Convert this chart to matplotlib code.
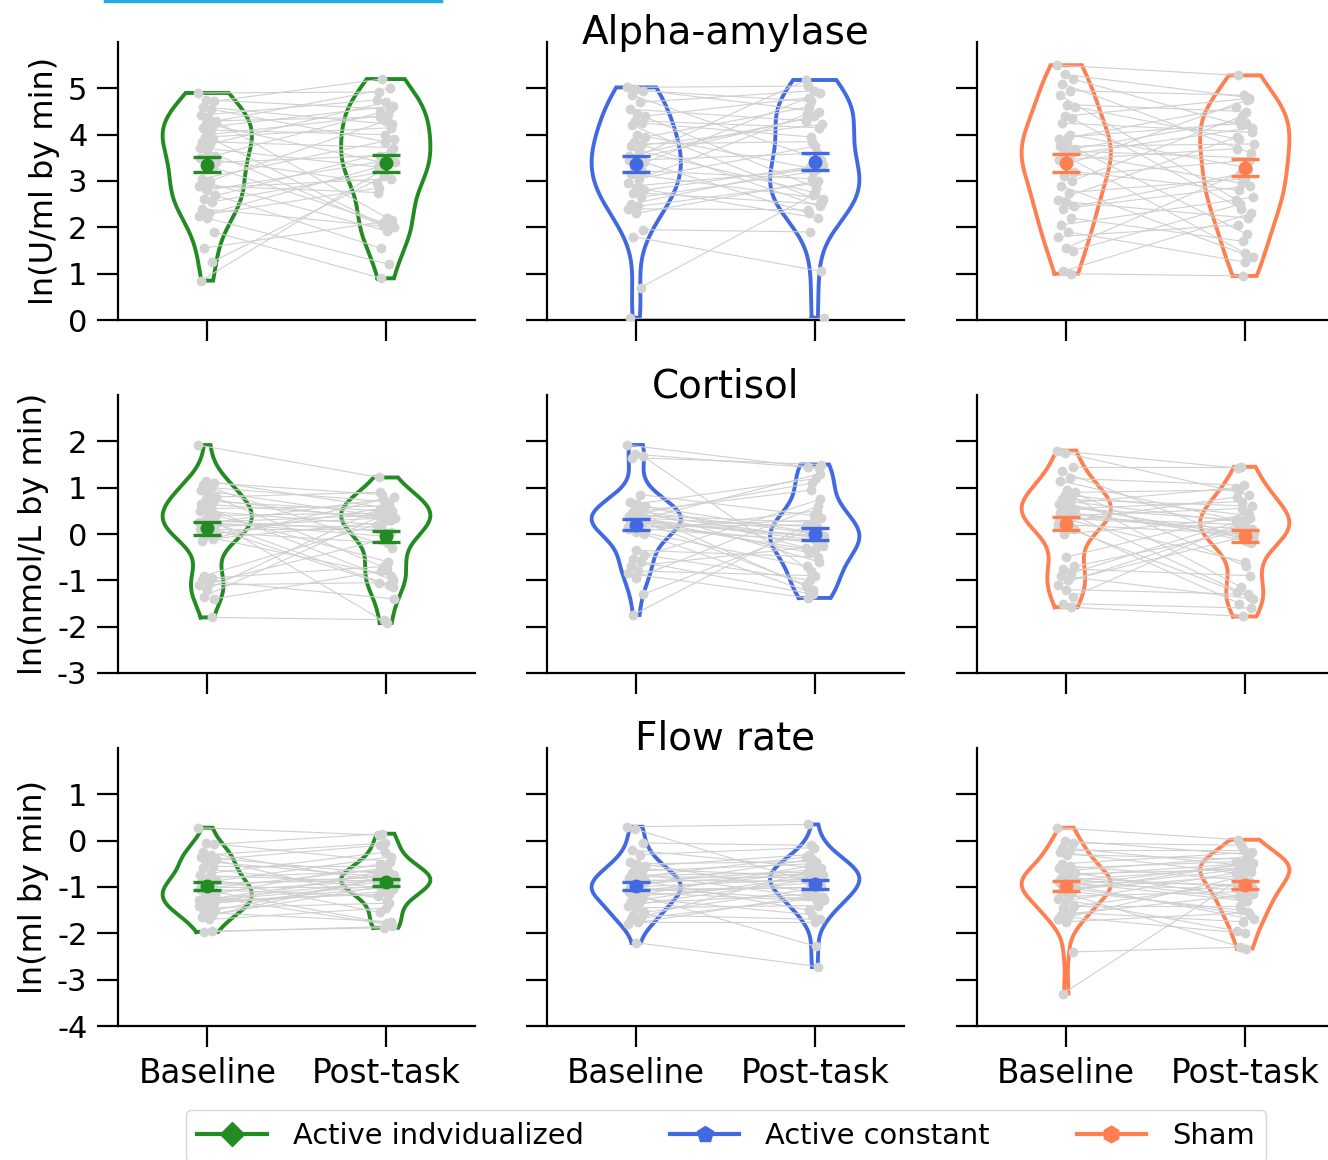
"""Paired violin plots of salivary markers (baseline vs post-task) for three stimulation groups."""

import matplotlib

matplotlib.use("Agg")
import matplotlib.pyplot as plt
import numpy as np
from matplotlib.lines import Line2D

plt.rcParams["font.family"] = ["DejaVu Sans"]
plt.rcParams["axes.unicode_minus"] = False

GROUPS = ["Active indvidualized", "Active constant", "Sham"]
GROUP_COLORS = ["#228B22", "#4169E1", "#FF7F50"]
GROUP_MARKERS = ["D", "p", "h"]
TIMEPOINTS = ["Baseline", "Post-task"]
MEASURES = ["Alpha-amylase", "Cortisol", "Flow rate"]
YLABELS = ["ln(U/ml by min)", "ln(nmol/L by min)", "ln(ml by min)"]
YLIMS = [(0, 6), (-3, 3), (-4, 2)]
YTICKS = [range(0, 6), range(-3, 3), range(-4, 2)]

# alpha-amylase, ln(U/ml by min); same index = same participant
amy_ind_base = [4.90, 4.75, 4.72, 4.60, 4.55, 4.42, 4.38, 4.30, 4.25, 4.20, 4.15, 4.10, 3.50, 4.00,
                3.40, 3.95, 3.90, 3.85, 3.80, 3.72, 3.65, 3.55, 2.85, 3.30, 3.05, 3.00, 2.90, 2.80,
                2.70, 2.62, 2.55, 2.40, 2.30, 2.25, 2.20, 1.90, 1.55, 1.25, 0.85, 2.95]
amy_ind_post = [4.92, 4.55, 5.20, 4.22, 3.85, 4.75, 2.20, 4.38, 5.00, 3.40, 4.62, 4.00, 2.95, 4.42,
                3.55, 4.15, 2.05, 3.72, 4.70, 3.30, 1.98, 4.48, 3.05, 2.10, 3.90, 4.30, 2.75, 3.45,
                1.55, 3.65, 3.20, 2.00, 3.35, 2.85, 1.20, 0.90, 2.15, 3.10, 3.40, 1.92]
amy_con_base = [5.02, 4.98, 4.95, 4.85, 4.70, 4.55, 4.45, 4.40, 4.30, 4.25, 4.20, 3.50, 3.45, 4.00,
                3.95, 3.85, 3.80, 3.75, 3.65, 3.55, 3.45, 3.40, 3.30, 3.22, 3.15, 3.05, 2.95, 2.85,
                2.80, 2.75, 2.65, 2.50, 2.45, 2.40, 2.30, 1.95, 1.80, 0.70, 0.05, 2.90]
amy_con_post = [5.05, 4.50, 4.72, 3.45, 4.95, 4.30, 2.85, 4.80, 4.15, 3.95, 2.55, 4.40, 5.18, 3.25,
                4.60, 2.45, 3.85, 4.22, 2.75, 4.35, 3.60, 2.30, 4.90, 3.05, 2.62, 3.75, 4.45, 2.20,
                3.30, 2.50, 3.20, 3.35, 2.95, 2.38, 3.00, 1.90, 1.05, 2.70, 0.05, 3.25]
amy_sham_base = [5.50, 5.30, 5.20, 5.10, 4.95, 4.85, 4.65, 4.60, 4.40, 4.35, 4.25, 4.00, 3.90, 3.80,
                 3.70, 3.65, 3.60, 3.55, 3.50, 3.45, 3.35, 3.20, 3.10, 3.00, 2.90, 2.75, 2.60, 2.55,
                 2.45, 2.40, 2.20, 2.05, 1.90, 1.80, 1.55, 1.50, 1.05, 1.00, 3.75, 3.95]
amy_sham_post = [5.28, 4.80, 4.20, 3.60, 4.85, 2.60, 4.50, 3.90, 4.78, 2.40, 4.05, 3.30, 4.60, 1.85,
                 4.30, 3.50, 2.95, 4.15, 1.45, 3.70, 4.75, 2.80, 3.45, 4.40, 1.35, 3.05, 3.95, 2.20,
                 3.15, 2.90, 1.70, 2.65, 1.25, 2.05, 3.25, 2.50, 2.30, 0.95, 3.80, 4.25]

# cortisol, ln(nmol/L by min)
cort_ind_base = [1.92, 1.15, 1.10, 1.05, 1.00, 0.95, 0.85, 0.80, 0.75, 0.70, 0.60, 0.55, 0.50, 0.45,
                 0.40, 0.30, 0.25, 0.20, 0.15, 0.10, 0.05, 0.00, -0.05, -0.10, -0.15, 0.25, 0.25,
                 0.30, 0.20, -0.90, -0.95, -1.00, -1.05, -1.10, -1.20, -1.40, -1.35, -1.80, 0.65, 0.35]
cort_ind_post = [1.22, 0.55, 0.85, -0.30, 0.70, 0.40, -0.75, 0.90, 0.30, 0.50, -1.00, 0.60, 0.20,
                 -0.60, 0.45, 0.05, 0.75, -1.15, 0.35, 0.10, -0.20, 0.55, -0.90, 0.25, 0.80, -0.05,
                 0.40, -1.10, 0.15, 0.30, -0.70, -1.40, -0.10, -1.05, 0.65, -0.80, 0.50, -1.85, 0.35,
                 -1.92]
cort_con_base = [1.92, 1.72, 1.68, 1.65, 0.85, 0.70, 0.65, 0.60, 0.55, 0.50, 0.45, 0.40, 0.38, 0.35,
                 0.30, 0.28, 0.25, 0.20, 0.15, 0.10, 0.05, 0.00, 0.50, 0.45, 0.35, 0.25, 0.15, -0.35,
                 -0.45, -0.55, -0.60, -0.70, -0.80, -0.85, -0.95, -1.30, -1.75, 0.45, 0.30, 0.12]
cort_con_post = [1.45, 1.42, -0.80, 1.50, 0.40, -0.30, 1.20, 0.05, -0.60, 0.95, -0.10, 0.25, -1.10,
                 0.15, -0.40, 1.30, -0.05, -0.20, 0.30, -0.70, 0.50, -1.25, 0.00, 1.10, -0.15, -0.35,
                 0.20, -0.50, -1.00, 0.75, -1.30, -0.25, -0.90, -1.38, 0.60, 0.10, 0.35, -1.20,
                 -0.05, -0.15]
cort_sham_base = [1.80, 1.75, 1.45, 1.35, 1.20, 1.15, 0.95, 0.90, 0.85, 0.80, 0.75, 0.70, 0.65, 0.60,
                  0.55, 0.50, 0.40, 0.35, 0.30, 0.25, 0.20, 0.10, 0.00, 0.55, 0.50, 0.35, 0.20, -0.50,
                  -0.70, -0.75, -0.85, -0.90, -1.00, -1.10, -1.20, -1.35, -1.50, -1.58, 0.45, 0.65]
cort_sham_post = [1.42, 0.85, 1.45, -0.20, 1.05, 0.30, -0.70, 0.95, 0.40, -1.15, 0.60, 0.25, 1.00,
                  -0.05, 0.30, -1.35, 0.55, 0.10, -0.60, 0.80, 0.00, -1.50, 0.35, 0.70, -0.10, 0.20,
                  -1.25, 0.45, 0.05, -0.90, 0.30, -1.40, -0.05, 0.15, -1.30, 0.25, -1.60, -1.78,
                  0.00, -0.15]

# saliva flow rate, ln(ml by min)
flow_ind_base = [0.28, -0.05, -0.08, -0.25, -0.30, -0.35, -0.38, -0.40, -0.45, -0.55, -0.60, -0.70,
                 -0.75, -0.80, -0.85, -0.90, -0.95, -1.00, -1.02, -1.05, -1.10, -1.15, -1.20, -1.25,
                 -1.30, -1.35, -1.40, -1.45, -1.50, -1.55, -1.60, -1.65, -1.70, -1.28, -1.30, -1.35,
                 -1.97, -1.95, -0.92, -1.08]
flow_ind_post = [0.12, -0.45, 0.15, -0.92, -0.05, -0.70, -1.30, -0.10, -0.80, -0.55, -1.05, -0.25,
                 -0.88, -0.65, -1.55, -0.35, -0.78, -1.00, -0.60, -1.20, -0.85, -0.50, -1.82, -0.72,
                 -0.95, -1.10, -0.68, -1.35, -0.82, -1.75, -0.98, -0.75, -1.45, -0.90, -1.15, -1.02,
                 -1.85, -1.88, -0.85, -1.78]
flow_con_base = [0.30, 0.25, -0.05, -0.20, -0.30, -0.45, -0.50, -0.55, -0.60, -0.65, -0.70, -0.75,
                 -0.80, -0.85, -0.88, -0.90, -0.95, -1.00, -1.05, -1.10, -1.12, -1.15, -1.20, -1.25,
                 -1.30, -1.35, -1.40, -1.45, -1.55, -1.60, -1.65, -1.70, -1.75, -1.80, -2.20, -0.92,
                 -1.08, -0.78, -1.02, -1.18]
flow_con_post = [0.35, -0.95, -0.10, -0.60, -0.15, -1.10, -0.45, -0.30, -0.78, -0.50, -1.25, -0.68,
                 -0.35, -0.88, -1.50, -0.62, -0.40, -0.82, -1.02, -0.70, -1.30, -0.55, -0.90, -1.60,
                 -0.75, -1.15, -0.85, -1.40, -1.05, -1.70, -0.65, -1.22, -1.75, -1.20, -2.72, -0.72,
                 -1.00, -0.80, -1.28, -2.28]
flow_sham_base = [0.28, 0.00, -0.05, -0.15, -0.20, -0.25, -0.30, -0.95, -1.05, -1.10, -0.50, -0.55,
                  -0.60, -0.65, -0.70, -0.72, -0.75, -0.80, -0.85, -0.88, -0.90, -0.95, -1.00, -1.05,
                  -1.10, -1.20, -1.25, -1.30, -1.40, -1.45, -1.55, -1.60, -1.65, -1.70, -1.75, -2.40,
                  -3.30, -0.82, -0.92, -1.15]
flow_sham_post = [0.02, -0.30, -0.10, -0.55, -0.20, -0.70, -0.40, -1.05, -0.60, -1.50, -0.25, -0.85,
                  -0.45, -0.35, -1.20, -0.62, -0.50, -1.00, -0.58, -0.95, -1.30, -0.52, -1.60, -0.75,
                  -0.48, -1.10, -1.95, -0.65, -1.40, -0.90, -1.75, -1.15, -2.00, -0.80, -1.55, -2.30,
                  -0.68, -1.25, -1.70, -2.33]

DATA = [
    [(amy_ind_base, amy_ind_post), (amy_con_base, amy_con_post), (amy_sham_base, amy_sham_post)],
    [(cort_ind_base, cort_ind_post), (cort_con_base, cort_con_post), (cort_sham_base, cort_sham_post)],
    [(flow_ind_base, flow_ind_post), (flow_con_base, flow_con_post), (flow_sham_base, flow_sham_post)],
]


def draw_violin(ax, values, pos, color, half_width=0.25):
    v = np.asarray(values, dtype=float)
    bw = v.std(ddof=1) * len(v) ** (-0.2)  # scott
    grid = np.linspace(v.min(), v.max(), 300)
    dens = np.exp(-0.5 * ((grid[:, None] - v[None, :]) / bw) ** 2).sum(axis=1)
    dens = dens / dens.max() * half_width
    xs = np.concatenate([pos - dens, (pos + dens)[::-1], [pos - dens[0]]])
    ys = np.concatenate([grid, grid[::-1], [grid[0]]])
    ax.plot(xs, ys, color=color, lw=2.8, zorder=1, solid_joinstyle="miter")


def draw_panel(ax, base, post, color):
    base = np.asarray(base)
    post = np.asarray(post)
    n = len(base)
    jit = ((np.arange(n) * 17) % n) / (n - 1) * 0.1 - 0.05
    jit2 = ((np.arange(n) * 23 + 5) % n) / (n - 1) * 0.1 - 0.05

    for i, vals in enumerate([base, post]):
        draw_violin(ax, vals, i, color)

    for k in range(n):
        ax.plot([0 + jit[k], 1 + jit2[k]], [base[k], post[k]], color="#d0d0d0",
                lw=0.8, zorder=2)
    ax.scatter(0 + jit, base, s=50, color="#d3d3d3", zorder=3, linewidths=0)
    ax.scatter(1 + jit2, post, s=50, color="#d3d3d3", zorder=3, linewidths=0)

    for i, vals in enumerate([base, post]):
        m = vals.mean()
        sem = vals.std(ddof=1) / np.sqrt(len(vals))
        ax.errorbar(i, m, yerr=sem, fmt="o", color=color, ms=9, capsize=10,
                    capthick=2.4, elinewidth=2.4, zorder=4)


fig = plt.figure(figsize=(13.28, 11.6), dpi=100)

col_left = [118, 547, 977]
row_top = [42, 395, 748]
ax_w, ax_h = 357, 278

for r in range(3):
    for c in range(3):
        ax = fig.add_axes([col_left[c] / 1328, 1 - (row_top[r] + ax_h) / 1160,
                           ax_w / 1328, ax_h / 1160])
        base, post = DATA[r][c]
        draw_panel(ax, base, post, GROUP_COLORS[c])

        ax.set_xlim(-0.5, 1.5)
        ax.set_ylim(*YLIMS[r])
        ax.set_yticks(list(YTICKS[r]))
        ax.set_xticks([0, 1])
        for side in ["top", "right"]:
            ax.spines[side].set_visible(False)
        for side in ["left", "bottom"]:
            ax.spines[side].set_linewidth(1.6)
        ax.tick_params(axis="both", length=15, width=1.6, pad=7)
        ax.tick_params(axis="y", labelsize=22)
        ax.tick_params(axis="x", labelsize=23.5)

        if r == 2:
            ax.set_xticklabels(TIMEPOINTS)
        else:
            ax.set_xticklabels([])
        if c == 0:
            ax.set_ylabel(YLABELS[r], fontsize=23, labelpad=6)
        else:
            ax.set_yticklabels([])
        if c == 1:
            # title sits right on the top of the axis, baseline a hair below it
            ax.text(0.5, 1 - 2 / ax_h, MEASURES[r], transform=ax.transAxes,
                    ha="center", va="baseline", fontsize=28)

handles = [
    Line2D([0], [0], color=col, lw=3, marker=mk, markersize=12)
    for col, mk in zip(GROUP_COLORS, GROUP_MARKERS)
]
fig.legend(handles, GROUPS, loc="upper center", bbox_to_anchor=(726 / 1328, 1 - 1096 / 1160),
           ncol=3, fontsize=20.8, handlelength=2.4, handletextpad=0.9, columnspacing=3.0,
           frameon=True, borderpad=0.4)

# thin strip left over at the top edge of the figure
fig.add_artist(Line2D([105 / 1328, 441 / 1328], [0.9995, 0.9995], color="#29a9e1", lw=2.5))

fig.savefig("out.png", dpi=100)
